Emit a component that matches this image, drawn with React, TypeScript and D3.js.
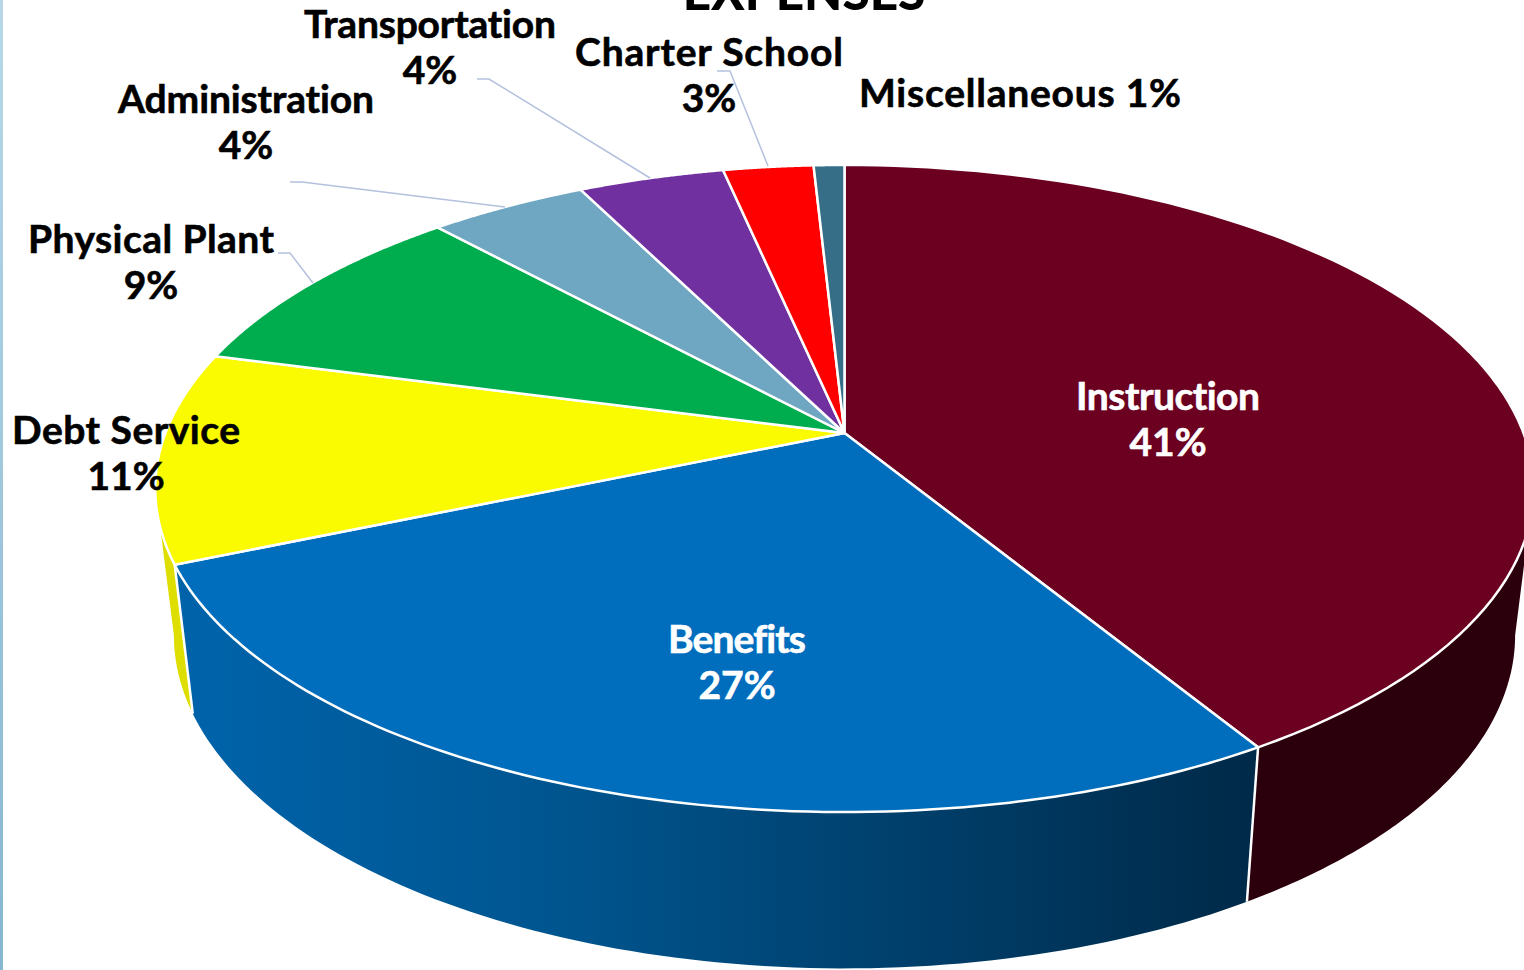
import React from "react";
import * as d3 from "d3";

const W = 1524, H = 970;
const categories = ["Instruction","Benefits","Debt Service","Physical Plant","Administration","Transportation","Charter School","Miscellaneous"];
const shares = [41.3, 27.3, 10.5, 9.1, 4.4, 4.05, 2.5, 0.85];
const percentLabels = ["41%","27%","11%","9%","4%","4%","3%","1%"];
const topColors = ["#6b0020","#006dbd","#fafa00","#00ad4e","#6fa6c2","#7030a0","#ff0000","#366e88"];
const sideColors = ["#2b000c","url(#benefitSide)","#dede00","#008a3e","#58859b","#5a2680","#cc0000","#2b586d"];

// Perspective projection of the unit circle (pie plane) to the screen
const apex = { x: 844.5, y: 433 };
const k = -0.1716, sx = 679, sy = 314;
const project = (angle: number, r = 1) => {
  const u = r * Math.sin(angle), v = -r * Math.cos(angle), w = 1 + k * v;
  return [apex.x + (sx * u) / w, apex.y + (sy * v) / w] as [number, number];
};
const lower = ([x, y]: [number, number]) => [apex.x + (x - apex.x) * 0.973, 1.03 * y + 132] as [number, number];

const arcs = d3.pie<number>().sort(null).value((d) => d)(shares);
const line = d3.line();
const angles = (a0: number, a1: number) => d3.range(0, 1.0001, 1 / 90).map((t) => a0 + (a1 - a0) * t);

const topPath = (a0: number, a1: number) =>
  line([[apex.x, apex.y] as [number, number], ...angles(a0, a1).map((a) => project(a))])! + "Z";
const sidePath = (a0: number, a1: number) => {
  const rim = angles(a0, a1).map((a) => project(a));
  return line([...rim, ...rim.map(lower).reverse()])! + "Z";
};

// Angular window of the visible wall: right and left silhouettes of the ellipse
const silhouette = Math.asin(-k);
const wallStart = Math.PI / 2 + silhouette, wallEnd = (3 * Math.PI) / 2 - silhouette;

const leaderLines: [number, number][][] = [
  [[477,79],[489,79],[650,178]],
  [[290,182],[302,182],[505,207]],
  [[278,253],[290,253],[313,283]],
  [[717,71],[730,71],[768,166]],
];

type Lab = { i: number; x: number; y: number; fill: string; len: number };
const labels: Lab[] = [
  { i: 0, x: 1168, y: 410, fill: "#fff", len: 184 },
  { i: 1, x: 737, y: 653, fill: "#fff", len: 138 },
  { i: 2, x: 126, y: 444, fill: "#000", len: 228 },
  { i: 3, x: 151, y: 253, fill: "#000", len: 246 },
  { i: 4, x: 246, y: 113, fill: "#000", len: 256 },
  { i: 5, x: 430, y: 38, fill: "#000", len: 252 },
  { i: 6, x: 709, y: 66, fill: "#000", len: 268 },
];
const FONT = "Lato, 'Open Sans', sans-serif";

export default function App() {
  return (
    <svg width={W} height={H} viewBox={`0 0 ${W} ${H}`} style={{ position: "absolute", left: 0, top: 0, display: "block", background: "#fff" }}>
      <defs>
        <linearGradient id="benefitSide" gradientUnits="userSpaceOnUse" x1={190} x2={1245} y1={0} y2={0}>
          <stop offset="0" stopColor="#0063aa" />
          <stop offset="0.35" stopColor="#00558f" />
          <stop offset="1" stopColor="#002a49" />
        </linearGradient>
        <linearGradient id="strip" x1="0" x2="0" y1="0" y2="1">
          <stop offset="0" stopColor="#b8d8e8" />
          <stop offset="1" stopColor="#86b6d0" />
        </linearGradient>
      </defs>
      <rect x={0} y={0} width={3} height={H} fill="url(#strip)" />
      <text x={804} y={10} textAnchor="middle" fontFamily={FONT} fontWeight={900} fontSize={49.5} fill="#000">EXPENSES</text>

      {arcs.map((d, i) => {
        const a0 = Math.max(d.startAngle, wallStart), a1 = Math.min(d.endAngle, wallEnd);
        if (a1 <= a0) return null;
        return <path key={i} d={sidePath(a0, a1)} fill={sideColors[i]} />;
      })}
      {arcs.slice(1, 3).map((d, i) => (
        <path key={i} d={line([project(d.startAngle), lower(project(d.startAngle))])!} stroke="#fff" strokeWidth={2.5} fill="none" />
      ))}
      {arcs.map((d, i) => (
        <path key={i} d={topPath(d.startAngle, d.endAngle)} fill={topColors[i]} stroke="#fff" strokeWidth={2.5} strokeLinejoin="round" />
      ))}
      {leaderLines.map((l, i) => (
        <path key={i} d={line(l)!} fill="none" stroke="#b4c1de" strokeWidth={1.5} />
      ))}
      <g fontFamily={FONT} fontWeight={700} fontSize={39} textAnchor="middle" strokeWidth={0.6} style={{ fontVariantLigatures: "none" }}>
        {labels.map((l) => (
          <text key={l.i} fill={l.fill} stroke={l.fill}>
            <tspan x={l.x} y={l.y} textLength={l.len} lengthAdjust="spacing">{categories[l.i]}</tspan>
            <tspan x={l.x} y={l.y + 46}>{percentLabels[l.i]}</tspan>
          </text>
        ))}
        <text x={1020} y={107} fill="#000" stroke="#000" textLength={322} lengthAdjust="spacing">{categories[7]} {percentLabels[7]}</text>
      </g>
    </svg>
  );
}
